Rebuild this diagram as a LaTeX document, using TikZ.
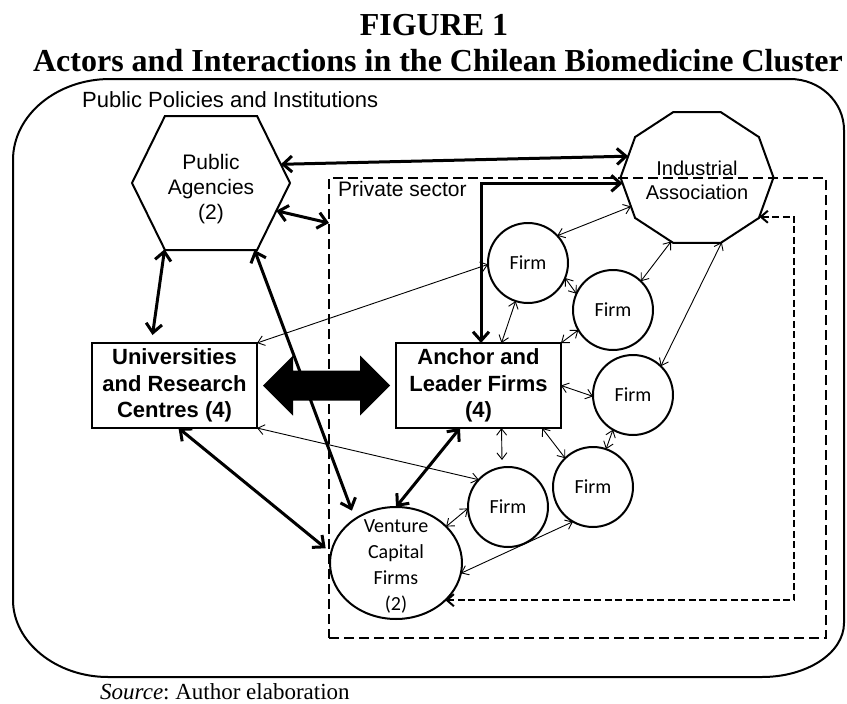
\documentclass[tikz,border=0pt]{standalone}
\usepackage{fontspec}
\setmainfont{Liberation Serif}
\newfontfamily\arialf{Liberation Sans}
\newfontfamily\calf{Carlito}
\usetikzlibrary{shapes.geometric,shapes.symbols,arrows.meta,calc}
\begin{document}
\begin{tikzpicture}[x=1pt,y=-1pt,
  shapeline/.style={draw, line width=2pt, inner sep=0pt, outer sep=0pt},
  firm/.style={shapeline, circle, minimum size=80pt, font=\calf\fontsize{20}{24}\selectfont},
  bigbox/.style={shapeline, rectangle, minimum width=165pt, minimum height=85pt, align=center, font=\arialf\bfseries\fontsize{22}{26.5}\selectfont},
  thicklink/.style={line width=3pt, {Straight Barb[length=9pt,width=16pt]}-{Straight Barb[length=9pt,width=16pt]}},
  thinlink/.style={line width=0.9pt, {Straight Barb[length=6.5pt,width=10pt]}-{Straight Barb[length=6.5pt,width=10pt]}},
  returnlink/.style={line width=2pt, dash pattern=on 7pt off 3.5pt, {Straight Barb[length=7pt,width=12pt]}-{Straight Barb[length=7pt,width=12pt]}},
  sanslabel/.style={inner sep=0pt, font=\arialf\fontsize{21}{25}\selectfont},
]
\useasboundingbox (0,0) rectangle (847,704);

% titles
\node[anchor=base, inner sep=0pt, font=\bfseries\fontsize{32}{36}\selectfont] (fig) at (434,35) {FIGURE 1};
\node[anchor=base, inner sep=0pt, font=\bfseries\fontsize{32}{36}\selectfont] (title) at (438,71) {Actors and Interactions in the Chilean Biomedicine Cluster};
\node[anchor=base west, inner sep=0pt, font=\fontsize{23}{27}\selectfont] (source) at (100,699) {\frenchspacing{\itshape Source}: Author elaboration};

% outer frame
\draw[line width=2pt] (110,79) -- (790,79) .. controls (820,79) and (844,102) .. (844,130)
  -- (844,623) .. controls (844,653) and (807,677) .. (762,677)
  -- (108,677) .. controls (56,677) and (13,642) .. (13,600)
  -- (13,160) .. controls (13,115) and (57,79) .. (110,79) -- cycle;
\node[sanslabel, anchor=base west, font=\arialf\fontsize{22}{26}\selectfont] (pplabel) at (82,107) {Public Policies and Institutions};

% private sector box
\node[draw, line width=2.6pt, dash pattern=on 10pt off 5pt, minimum width=497pt, minimum height=460pt, inner sep=0pt, outer sep=0pt] (priv) at (577.5,408) {};
\node[sanslabel, anchor=base west] (privlabel) at (338,196) {Private sector};

% actors
\node[shapeline, signal, signal to=west and east, signal pointer angle=127.6, minimum width=158pt, minimum height=134pt] (hex) at (211,183) {};
\node[align=center, inner sep=0pt, font=\arialf\fontsize{21}{25}\selectfont] (hextext) at (211,189) {Public\\Agencies\\(2)};
\node[shapeline, regular polygon, regular polygon sides=10, minimum size=153pt, yscale=0.9, transform shape] (ia) at (697,177.5) {};
\node[align=center, inner sep=0pt, font=\arialf\fontsize{20}{24}\selectfont] (iatext) at (697,180) {Industrial\\Association};
\node[bigbox] (uni) at (174.5,385.5) {Universities\\and Research\\Centres (4)};
\node[bigbox] (anch) at (478.5,385.5) {Anchor and\\Leader Firms\\(4)};
\node[shapeline, ellipse, minimum width=132pt, minimum height=112pt] (vc) at (396,563) {};
\node[align=center, inner sep=0pt, font=\calf\fontsize{20}{26}\selectfont] (vctext) at (396,566) {Venture\\Capital\\Firms\\(2)};
\node[firm] (f1) at (528,263) {Firm};
\node[firm] (f2) at (613,310) {Firm};
\node[firm] (f3) at (633,395) {Firm};
\node[firm] (f4) at (593,487) {Firm};
\node[firm] (f5) at (508,507) {Firm};

% fat double arrow universities <-> anchor firms
\coordinate (fa1) at ([xshift=6pt]uni.east);
\coordinate (fa2) at ([xshift=-6pt]anch.west);
\fill (fa1) -- ++(30,-30) -- ++(0,15) -- ($(fa2)+(-30,-15)$) -- ++(0,-15) -- (fa2)
  -- ++(-30,30) -- ++(0,-15) -- ($(fa1)+(30,15)$) -- ++(0,15) -- cycle;

% thick links
\draw[thicklink] (hex.15) -- (ia.161);
\draw[thicklink] (hex.-23) -- ([yshift=-45pt]priv.north west);
\draw[thicklink] (hex.235) -- ([xshift=-22pt,yshift=8pt]uni.north);
\draw[thicklink, shorten >=9pt] (hex.303) -- (vc.133);
\draw[thicklink, shorten >=7pt] ([xshift=4pt]uni.south) -- (vc.171);
\draw[thicklink] ([xshift=-18.5pt]anch.south) -- (vc.north);
\draw[thicklink] (ia.185) -| ([xshift=2.5pt]anch.north);

% thin links
\draw[thinlink] (uni.north east) -- (f1.182);
\draw[thinlink] (uni.south east) -- (f5.137);
\draw[thinlink] (f1.43) -- (ia.206);
\draw[thinlink] (f2.46) -- (ia.250);
\draw[thinlink] (f3.46) -- (ia.289);
\draw[thinlink] (f1.-22) -- (f2.156);
\draw[thinlink] (f1.252) -- ([xshift=23pt]anch.north);
\draw[thinlink] (f2.210) -- (anch.north east);
\draw[thinlink] (anch.east) -- (f3.182);
\draw[thinlink] (f3.240) -- (f4.71);
\draw[thinlink] ([xshift=23pt]anch.south) -- ([xshift=-6pt,yshift=7pt]f5.north);
\draw[thinlink] ([xshift=-19pt]anch.south east) -- (f4.134);
\draw[thinlink] (vc.36) -- (f5.182);
\draw[thinlink] (vc.-9) -- (f4.240);

% dashed return link
\draw[returnlink] (ia.-35) -- ++(35,0) |- (vc.-37);
\end{tikzpicture}
\end{document}
